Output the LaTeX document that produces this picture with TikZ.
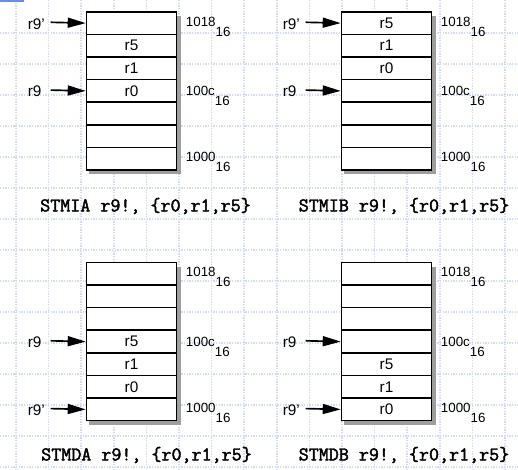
\documentclass[tikz,border=0pt]{standalone}
\usepackage{fontspec}
\newfontfamily\lsans{Liberation Sans}
\newfontfamily\capfont[FakeBold=2.2]{Latin Modern Mono}
\usetikzlibrary{arrows.meta}
\definecolor{gridblue}{RGB}{208,218,246}
\definecolor{tabblue}{RGB}{105,140,235}

\tikzset{
  cell/.style={draw, line width=1.2pt, fill=white, minimum width=67.5pt,
    minimum height=16.95pt, inner sep=0pt, anchor=north west,
    font=\lsans\fontsize{11.5}{13}\selectfont},
  ptr/.style={line width=1.25pt, -{Triangle[length=13.5pt,width=7.5pt]}},
  reglabel/.style={anchor=west, inner sep=0pt, font=\lsans\fontsize{11.5}{13}\selectfont},
  addr/.style={anchor=base west, inner sep=0pt, font=\lsans\fontsize{10}{12}\selectfont},
  caption/.style={inner sep=0pt, font=\capfont\fontsize{14.6}{16}\selectfont},
  shadow/.style={fill=black!38},
  gridline/.style={gridblue, line width=1.3pt, dash pattern=on 1pt off 1pt}
}

% One memory block: #1 name prefix, #2 left x, #3 top y,
% #4 the seven cell texts (top to bottom), #5 row of r9', #6 row of r9
\newcommand\memblock[6]{%
  \fill[shadow] ({#2+90},{#3+5}) rectangle ({#2+95.5},{#3+163.5});
  \fill[shadow] ({#2+3},{#3+158.2}) rectangle ({#2+95.5},{#3+163.5});
  \foreach \t [count=\i] in {#4} {
    \node[cell] (#1\i) at ({#2},{#3+22.6*(\i-1)}) {\t};
  }
  \node[reglabel] (#1rp) at ({#2-58.2},{#3+22.6*(#5-0.5)+1.5}) {r9’};
  \coordinate (#1ap) at ({#2-35},{#3+22.6*(#5-0.5)});
  \draw[ptr] (#1ap) -- (#1#5.west);
  \node[reglabel] (#1r) at ({#2-58.2},{#3+22.6*(#6-0.5)+1.5}) {r9};
  \coordinate (#1a) at ({#2-35},{#3+22.6*(#6-0.5)});
  \draw[ptr] (#1a) -- (#1#6.west);
  \node[addr] (#1h) at ({#2+100},{#3+22.6*0.5+4}) {1018\raisebox{-7.5pt}{16}};
  \node[addr] (#1m) at ({#2+100},{#3+22.6*3.5+5.5}) {100c\raisebox{-7.5pt}{16}};
  \node[addr] (#1l) at ({#2+100},{#3+22.6*6.5+3.5}) {1000\raisebox{-7.5pt}{16}};
}

\begin{document}
\begin{tikzpicture}[x=0.75pt,y=-0.75pt]
  \useasboundingbox (0,0) rectangle (518,470);
  \fill[white] (0,0) rectangle (518,470);

  % background grid
  \foreach \gx in {0,...,15}
    \draw[gridline] ({16+32.6*\gx},0) -- ++(0,470);
  \foreach \gy in {0,...,14}
    \draw[gridline] (0,{33+31*\gy}) -- ++(518,0);
  \fill[tabblue] (0,0) rectangle (24,2.5);

  \memblock{ia}{85.7}{11}{{},r5,r1,r0,{},{},{}}{1}{4}
  \memblock{ib}{340.7}{11}{r5,r1,r0,{},{},{},{}}{1}{4}
  \memblock{da}{85.7}{261.7}{{},{},{},r5,r1,r0,{}}{7}{4}
  \memblock{db}{340.7}{261.7}{{},{},{},{},r5,r1,r0}{7}{4}

  \node[caption] (capia) at (145.5,206) {STMIA r9!, \{r0,r1,r5\}};
  \node[caption] (capib) at (404,206) {STMIB r9!, \{r0,r1,r5\}};
  \node[caption] (capda) at (146.5,455) {STMDA r9!, \{r0,r1,r5\}};
  \node[caption] (capdb) at (404,455) {STMDB r9!, \{r0,r1,r5\}};
\end{tikzpicture}
\end{document}
